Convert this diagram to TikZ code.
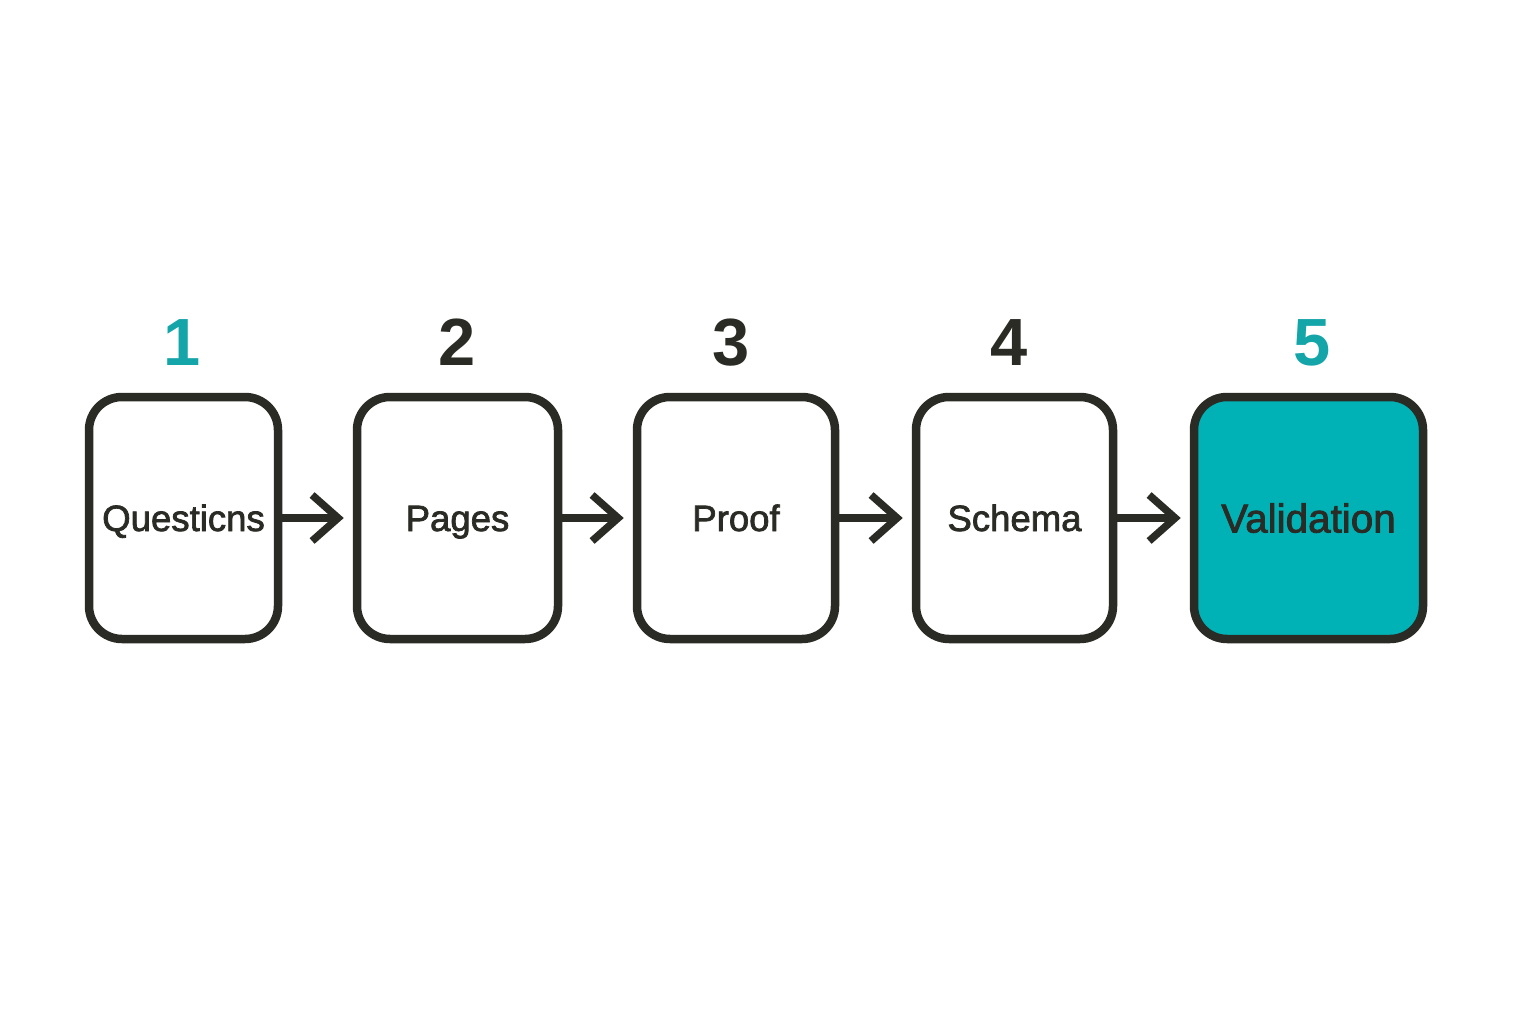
\documentclass[tikz,border=0pt]{standalone}
\usepackage{fontspec}
\setmainfont{Liberation Sans}
\newfontfamily\stagefont[FakeBold=2]{Liberation Sans}
\usetikzlibrary{arrows.meta}
\definecolor{ink}{HTML}{2B2B26}
\definecolor{tealfill}{HTML}{00B2B6}
\definecolor{tealnum}{HTML}{14A5A9}

\begin{document}
\begin{tikzpicture}[
    stage/.style={draw=ink, line width=0.85mm, rounded corners=3.3mm, minimum height=2.42cm, inner sep=0pt,
        text=ink, font=\stagefont\fontsize{10.4}{12}\selectfont, text height=2.6mm, text depth=0pt},
    num/.style={anchor=base, font=\fontsize{19}{23}\selectfont\bfseries, text=ink},
    flow/.style={draw=ink, line width=0.75mm, -{Straight Barb[length=2.6mm, width=4.6mm]}, shorten >=0.9mm}
]
    \useasboundingbox (0,0) rectangle (15.36,10.24);

    \node[stage, minimum width=1.89cm] (Q) at (1.835,5.06) {Questicns};
    \node[stage, minimum width=2.01cm] (P) at (4.575,5.06) {Pages};
    \node[stage, minimum width=1.98cm] (R) at (7.36,5.06) {Proof};
    \node[stage, minimum width=1.97cm] (S) at (10.145,5.06) {Schema};
    \node[stage, minimum width=2.29cm, fill=tealfill, font=\stagefont\fontsize{11.5}{14}\selectfont, text height=2.9mm] (V) at (13.085,5.06) {Validation};

    \node[num, text=tealnum] (n1) at (1.82,6.59) {1};
    \node[num] (n2) at (4.57,6.59) {2};
    \node[num] (n3) at (7.31,6.59) {3};
    \node[num] (n4) at (10.09,6.59) {4};
    \node[num, text=tealnum] (n5) at (13.12,6.59) {5};

    \draw[flow] (Q) -- (P);
    \draw[flow] (P) -- (R);
    \draw[flow] (R) -- (S);
    \draw[flow] (S) -- (V);

\end{tikzpicture}
\end{document}
